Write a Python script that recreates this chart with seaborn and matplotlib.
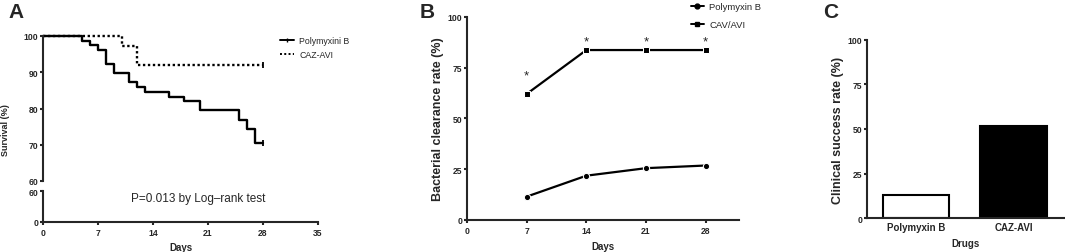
import matplotlib
matplotlib.use("Agg")
import matplotlib.pyplot as plt
import seaborn as sns
import pandas as pd
from matplotlib.lines import Line2D

# ---------------- data ----------------
# Panel A: Kaplan-Meier survival
pmb_days = [0, 5, 6, 7, 8, 9, 11, 12, 13, 16, 18, 20, 25, 26, 27, 28]
pmb_surv = [100, 98.7, 97.4, 96.2, 92.3, 89.7, 87.2, 85.9, 84.6, 83.3, 82.0, 79.5, 76.9, 74.4, 70.5, 70.5]
caz_days = [0, 10, 12, 28]
caz_surv = [100, 97.3, 91.9, 91.9]
a_xticks = [0, 7, 14, 21, 28, 35]
a_upper_yticks = [60, 70, 80, 90, 100]
a_lower_yticks = [0, 60]
p_text = "P=0.013 by Log\u2013rank test"

# Panel B: bacterial clearance
b_days = [7, 14, 21, 28]
b_pmb = [11.5, 21.8, 25.5, 26.8]
b_cav = [62.0, 83.6, 83.6, 83.6]
b_star_y = [71, 88, 88, 88]
b_xticks = [0, 7, 14, 21, 28]
b_yticks = [0, 25, 50, 75, 100]

# Panel C: clinical success
c_drugs = ["Polymyxin B", "CAZ-AVI"]
c_rate = [12.8, 51.5]
c_colors = ["white", "black"]
c_yticks = [0, 25, 50, 75, 100]

# ---------------- style ----------------
sns.set_theme(style="ticks")
plt.rcParams["font.family"] = ["Liberation Sans", "DejaVu Sans"]
plt.rcParams["axes.linewidth"] = 1.5
plt.rcParams["xtick.major.width"] = 1.5
plt.rcParams["ytick.major.width"] = 1.5
plt.rcParams["xtick.major.size"] = 2.5
plt.rcParams["ytick.major.size"] = 2.5
plt.rcParams["xtick.major.pad"] = 1.5
plt.rcParams["ytick.major.pad"] = 0.8

W, H = 1065, 253
fig = plt.figure(figsize=(W / 100, H / 100), dpi=100)


def rect(l, r, t, b):
    return [l / W, 1 - b / H, (r - l) / W, (b - t) / H]


def bold_ticks(ax, size, xsize=None):
    for lab in ax.get_yticklabels():
        lab.set_fontweight("bold"); lab.set_fontsize(size)
    for lab in ax.get_xticklabels():
        lab.set_fontweight("bold"); lab.set_fontsize(xsize if xsize else size)


# ---------------- Panel A ----------------
axA = fig.add_axes(rect(43, 318, 37, 182))
axA2 = fig.add_axes(rect(43, 318, 192, 223))

dfp = pd.DataFrame({"Days": pmb_days, "Survival": pmb_surv})
dfc = pd.DataFrame({"Days": caz_days, "Survival": caz_surv})
sns.lineplot(data=dfp, x="Days", y="Survival", ax=axA, color="black", lw=1.7,
             drawstyle="steps-post", clip_on=False, estimator=None, sort=False)
sns.lineplot(data=dfc, x="Days", y="Survival", ax=axA, color="black", lw=1.7,
             drawstyle="steps-post", linestyle=(0, (1, 1.1)), clip_on=False,
             estimator=None, sort=False)
# censor ticks at the end
axA.plot([pmb_days[-1]], [pmb_surv[-1]], marker="|", color="black", ms=4, mew=1.3, clip_on=False)
axA.plot([caz_days[-1]], [caz_surv[-1]], marker="|", color="black", ms=4, mew=1.3, clip_on=False)

axA.set_xlim(0, 35)
axA.set_ylim(60, 100)
axA.set_yticks(a_upper_yticks)
axA.set_xticks([])
axA.set_xlabel("")
axA.set_ylabel("")
for s in ["top", "right", "bottom"]:
    axA.spines[s].set_visible(False)
bold_ticks(axA, 6.2)

axA2.set_xlim(0, 35)
axA2.set_ylim(0, 60)
axA2.set_yticks(a_lower_yticks)
axA2.set_xticks(a_xticks)
for s in ["top", "right"]:
    axA2.spines[s].set_visible(False)
axA2.set_xlabel("Days", fontsize=7, fontweight="bold", labelpad=4)
bold_ticks(axA2, 6.2)
axA2.text(19.7, 46, p_text, fontsize=8.5, ha="center", va="center")

fig.text(1.5 / W, 1 - 130 / H, "Survival (%)", rotation=90, fontsize=6.5,
         fontweight="bold", ha="left", va="center")

legA = [Line2D([], [], color="black", lw=1.4, marker="|", ms=3),
        Line2D([], [], color="black", lw=1.4, linestyle=(0, (1, 1.2)))]
fig.legend(legA, ["Polymyxini B", "CAZ-AVI"], loc="upper left",
           bbox_to_anchor=(272 / W, 1 - 29 / H), frameon=False, fontsize=6.3,
           handlelength=1.6, handletextpad=0.6, labelspacing=0.55)

fig.text(8 / W, 1 - 13 / H, "A", fontsize=15, fontweight="bold", ha="left", va="center")

# ---------------- Panel B ----------------
axB = fig.add_axes(rect(467, 739, 17.7, 221))
dfb = pd.DataFrame({"Days": b_days * 2,
                    "Rate": b_pmb + b_cav,
                    "Drug": ["Polymyxin B"] * 4 + ["CAV/AVI"] * 4})
sns.lineplot(data=dfb, x="Days", y="Rate", hue="Drug", style="Drug",
             markers={"Polymyxin B": "o", "CAV/AVI": "s"}, dashes=False,
             palette={"Polymyxin B": "black", "CAV/AVI": "black"},
             lw=1.6, markersize=4.5, ax=axB, legend=False, clip_on=False)
for d, y in zip(b_days, b_star_y):
    axB.text(d, y, "*", ha="center", va="center", fontsize=9.5)
axB.set_xlim(0, 31.9)
axB.set_ylim(0, 100)
axB.set_xticks(b_xticks)
axB.set_yticks(b_yticks)
sns.despine(ax=axB)
axB.set_xlabel("Days", fontsize=7, fontweight="bold", labelpad=5)
axB.set_ylabel("Bacterial clearance rate (%)", fontsize=9, fontweight="bold", labelpad=3)
bold_ticks(axB, 6.2)

legB = [Line2D([], [], color="black", lw=1.4, marker="o", ms=3.5),
        Line2D([], [], color="black", lw=1.4, marker="s", ms=3.5)]
fig.legend(legB, ["Polymyxin B", "CAV/AVI"], loc="upper left",
           bbox_to_anchor=(682 / W, 1 + 5 / H), frameon=False, fontsize=6.8,
           handlelength=1.4, handletextpad=0.6, labelspacing=0.9)

fig.text(420 / W, 1 - 13 / H, "B", fontsize=15, fontweight="bold", ha="left", va="center")

# ---------------- Panel C ----------------
axC = fig.add_axes(rect(867, 1064, 40.7, 219.3))
dfc2 = pd.DataFrame({"Drug": c_drugs, "Rate": c_rate})
sns.barplot(data=dfc2, x="Drug", y="Rate", hue="Drug", palette=c_colors,
            edgecolor="black", linewidth=1.5, width=0.68, legend=False, ax=axC)
axC.set_xlim(-0.5, 1.515)
axC.set_ylim(0, 100)
axC.set_yticks(c_yticks)
sns.despine(ax=axC)
axC.tick_params(axis="x", length=0, pad=3)
axC.set_xlabel("Drugs", fontsize=7, fontweight="bold", labelpad=4)
axC.set_ylabel("Clinical success rate (%)", fontsize=9, fontweight="bold", labelpad=3)
bold_ticks(axC, 6.2, xsize=7)

fig.text(823 / W, 1 - 13 / H, "C", fontsize=15, fontweight="bold", ha="left", va="center")

fig.savefig("out.png", dpi=100)
